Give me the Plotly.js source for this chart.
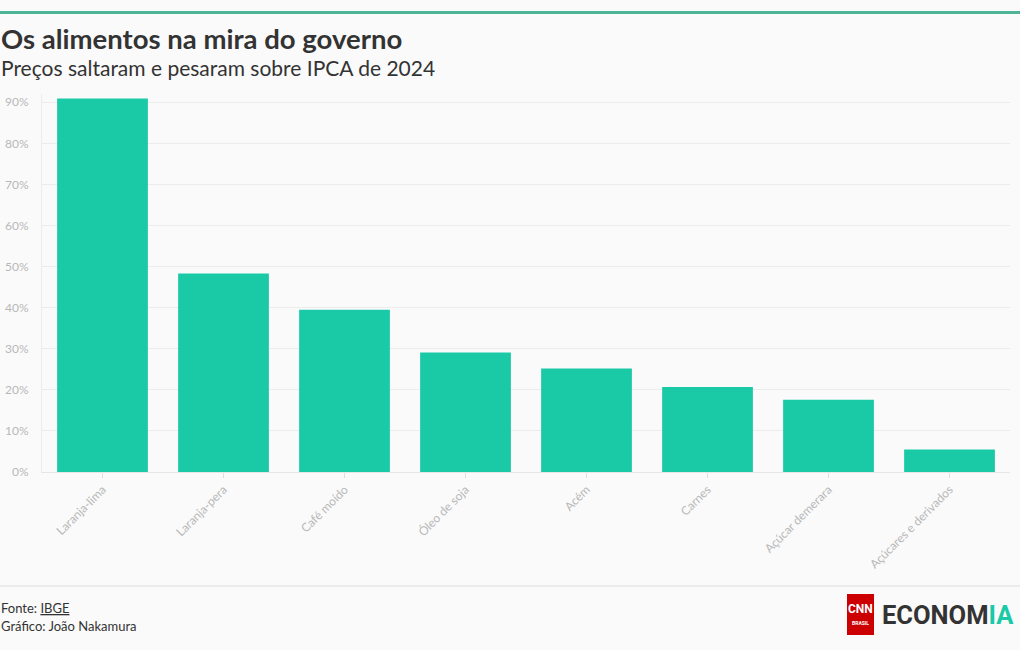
<!DOCTYPE html>
<html><head><meta charset="utf-8">
<script src="https://cdn.plot.ly/plotly-3.0.1.min.js"></script>
<style>html,body{margin:0;padding:0;background:#fafafa;}#chart{width:1020px;height:650px;}</style>
</head><body><div id="chart"></div>
<script>
const categories = ["Laranja-lima","Laranja-pera","Café moído","Óleo de soja","Acém","Carnes","Açúcar demerara","Açúcares e derivados"];
const values = [90.9, 48.3, 39.5, 29.1, 25.2, 20.7, 17.6, 5.5];
const yTickVals = [0,10,20,30,40,50,60,70,80,90];
const yTickText = ["0%","10%","20%","30%","40%","50%","60%","70%","80%","90%"];
const titleText = "Os alimentos na mira do governo";
const subtitleText = "Preços saltaram e pesaram sobre IPCA de 2024";

const W = 1020, H = 650, L = 42, R = 10, T = 94, B = 178;
const pw = W - L - R, ph = H - T - B;
const px = x => (x - L) / pw;
const py = y => (H - B - y) / ph;
const font = "Lato, 'Open Sans', sans-serif";

const trace = {
  type: "bar", x: categories, y: values,
  marker: {color: "#1ac9a5"},
  hoverinfo: "x+y"
};

const layout = {
  width: W, height: H,
  margin: {l: L, r: R, t: T, b: B, pad: 0},
  paper_bgcolor: "#fafafa", plot_bgcolor: "#fafafa",
  bargap: 0.25,
  showlegend: false,
  font: {family: font, color: "#333"},
  xaxis: {
    tickangle: -45, tickfont: {size: 12, color: "#b8b8b8", family: font},
    ticks: "outside", ticklen: 5, tickcolor: "#e0e0e0",
    showline: true, linecolor: "#e6e6e6", linewidth: 1,
    showgrid: false, fixedrange: true
  },
  yaxis: {
    range: [0, 92], tickvals: yTickVals, ticktext: yTickText,
    tickfont: {size: 12, color: "#b8b8b8", family: font},
    showgrid: true, gridcolor: "#ececec", gridwidth: 1,
    zeroline: false, showline: true, linecolor: "#ececec",
    ticks: "", ticklabelstandoff: 10, fixedrange: true
  },
  shapes: [
    {type: "line", xref: "paper", yref: "paper", x0: px(0), x1: px(W), y0: py(12.5), y1: py(12.5), line: {color: "#4db596", width: 3}},
    {type: "line", xref: "paper", yref: "paper", x0: px(0), x1: px(W), y0: py(586), y1: py(586), line: {color: "#dddddd", width: 1}},
    {type: "rect", xref: "paper", yref: "paper", x0: px(847), x1: px(874), y0: py(594), y1: py(635), fillcolor: "#cc0000", line: {width: 0}}
  ],
  annotations: [
    {xref: "paper", yref: "paper", x: px(-1), y: py(38), xanchor: "left", yanchor: "middle", showarrow: false,
     text: "<b>" + titleText + "</b>", font: {size: 27.5, color: "#333333", family: font}},
    {xref: "paper", yref: "paper", x: px(-1), y: py(67), xanchor: "left", yanchor: "middle", showarrow: false,
     text: subtitleText, font: {size: 21, color: "#333333", family: font}},
    {xref: "paper", yref: "paper", x: px(-1), y: py(608), xanchor: "left", yanchor: "middle", showarrow: false,
     text: "Fonte: <span style='text-decoration:underline'>IBGE</span>", font: {size: 13, color: "#333333", family: font}},
    {xref: "paper", yref: "paper", x: px(-1), y: py(626), xanchor: "left", yanchor: "middle", showarrow: false,
     text: "Gráfico: João Nakamura", font: {size: 13, color: "#333333", family: font}},
    {xref: "paper", yref: "paper", x: px(860.5), y: py(609), xanchor: "center", yanchor: "middle", showarrow: false,
     text: "<b>CNN</b>", font: {size: 12, color: "#ffffff", family: "Roboto, sans-serif"}},
    {xref: "paper", yref: "paper", x: px(860.5), y: py(623), xanchor: "center", yanchor: "middle", showarrow: false,
     text: "<b>BRASIL</b>", font: {size: 5, color: "#ffffff", family: "Roboto, sans-serif"}},
    {xref: "paper", yref: "paper", x: px(880), y: py(615), xanchor: "left", yanchor: "middle", showarrow: false,
     text: "<b>ECONOM<span style='color:#1ac9a5'>IA</span></b>", font: {size: 25.5, color: "#333333", family: "Roboto, sans-serif"}}
  ]
};

Plotly.newPlot("chart", [trace], layout, {displayModeBar: false, responsive: false});
</script></body></html>
